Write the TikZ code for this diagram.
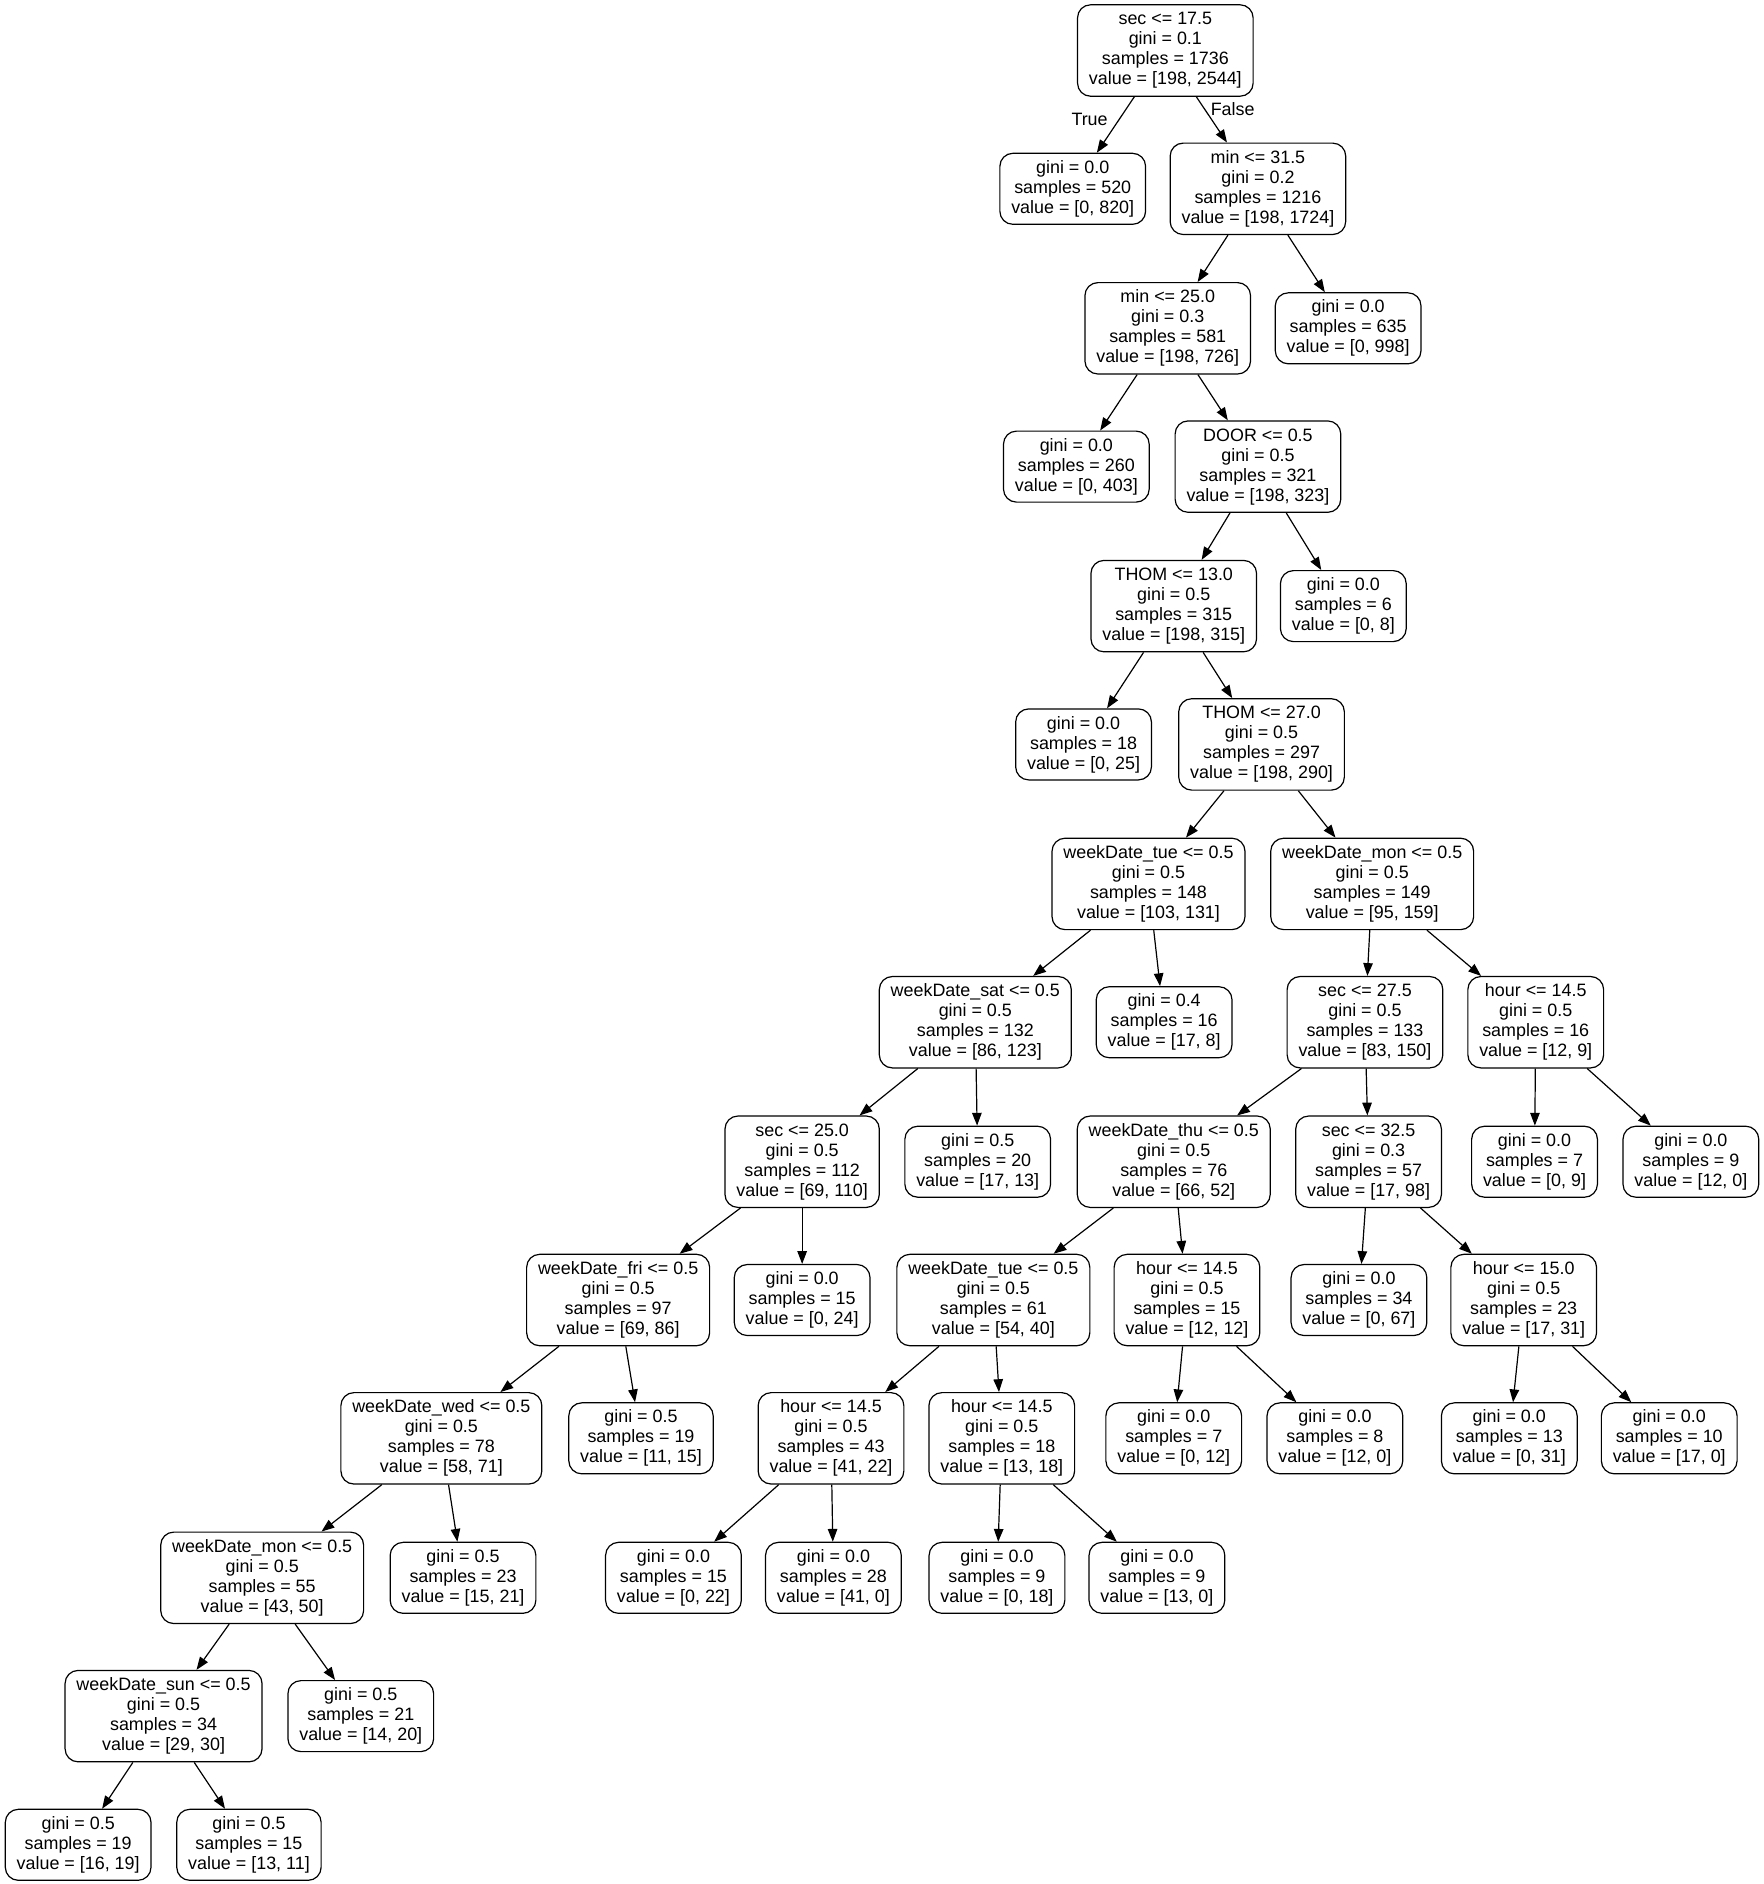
\documentclass[tikz,border=0pt]{standalone}
\usepackage{fontspec}
\setmainfont{Liberation Sans}
\usetikzlibrary{arrows.meta}
\tikzset{
  tn/.style={draw=black, line width=1.2pt, rounded corners=13pt, align=center,
    inner xsep=11.4pt, inner ysep=2pt, fill=white,
    font=\fontsize{17.9pt}{20pt}\selectfont,
    execute at begin node={\rule{0pt}{16.6pt}}},
  n4/.style={tn, minimum height=91.4pt},
  n3/.style={tn, minimum height=71pt},
  edge/.style={draw=black, line width=1.2pt, -{Triangle[length=12.8pt,width=9.5pt]}},
  elab/.style={font=\fontsize{17.9pt}{20pt}\selectfont, inner sep=0pt}
}
\begin{document}
\begin{tikzpicture}[x=1.2026pt,y=-1.2026pt]
\useasboundingbox (0,0) rectangle (1466,1566.6);
\fill[white] (0,0) rectangle (1466,1566.6);
% level 0
\node[n4] (root) at (969,42) {sec <= 17.5\\gini = 0.1\\samples = 1736\\value = [198, 2544]};
% level 1
\node[n3] (A) at (892,157) {gini = 0.0\\samples = 520\\value = [0, 820]};
\node[n4] (B) at (1046,157) {min <= 31.5\\gini = 0.2\\samples = 1216\\value = [198, 1724]};
% level 2
\node[n4] (C) at (971,273) {min <= 25.0\\gini = 0.3\\samples = 581\\value = [198, 726]};
\node[n3] (D) at (1121,273) {gini = 0.0\\samples = 635\\value = [0, 998]};
% level 3
\node[n3] (E) at (895,388) {gini = 0.0\\samples = 260\\value = [0, 403]};
\node[n4] (F) at (1046,388) {DOOR <= 0.5\\gini = 0.5\\samples = 321\\value = [198, 323]};
% level 4
\node[n4] (G) at (976,504) {THOM <= 13.0\\gini = 0.5\\samples = 315\\value = [198, 315]};
\node[n3] (H) at (1117,504) {gini = 0.0\\samples = 6\\value = [0, 8]};
% level 5
\node[n3] (I) at (901,619) {gini = 0.0\\samples = 18\\value = [0, 25]};
\node[n4] (J) at (1049,619) {THOM <= 27.0\\gini = 0.5\\samples = 297\\value = [198, 290]};
% level 6
\node[n4] (K) at (955,735) {weekDate\_tue <= 0.5\\gini = 0.5\\samples = 148\\value = [103, 131]};
\node[n4] (L) at (1141,735) {weekDate\_mon <= 0.5\\gini = 0.5\\samples = 149\\value = [95, 159]};
% level 7
\node[n4] (M) at (811,850) {weekDate\_sat <= 0.5\\gini = 0.5\\samples = 132\\value = [86, 123]};
\node[n3] (N) at (968,850) {gini = 0.4\\samples = 16\\value = [17, 8]};
\node[n4] (O) at (1135,850) {sec <= 27.5\\gini = 0.5\\samples = 133\\value = [83, 150]};
\node[n4] (P) at (1277,850) {hour <= 14.5\\gini = 0.5\\samples = 16\\value = [12, 9]};
% level 8
\node[n4] (Q) at (667,966) {sec <= 25.0\\gini = 0.5\\samples = 112\\value = [69, 110]};
\node[n3] (R) at (813,966) {gini = 0.5\\samples = 20\\value = [17, 13]};
\node[n4] (S) at (976,966) {weekDate\_thu <= 0.5\\gini = 0.5\\samples = 76\\value = [66, 52]};
\node[n4] (T) at (1138,966) {sec <= 32.5\\gini = 0.3\\samples = 57\\value = [17, 98]};
\node[n3] (U) at (1276,966) {gini = 0.0\\samples = 7\\value = [0, 9]};
\node[n3] (V) at (1406,966) {gini = 0.0\\samples = 9\\value = [12, 0]};
% level 9
\node[n4] (W) at (514,1081) {weekDate\_fri <= 0.5\\gini = 0.5\\samples = 97\\value = [69, 86]};
\node[n3] (X) at (667,1081) {gini = 0.0\\samples = 15\\value = [0, 24]};
\node[n4] (Y) at (826,1081) {weekDate\_tue <= 0.5\\gini = 0.5\\samples = 61\\value = [54, 40]};
\node[n4] (Z) at (987,1081) {hour <= 14.5\\gini = 0.5\\samples = 15\\value = [12, 12]};
\node[n3] (AA) at (1130,1081) {gini = 0.0\\samples = 34\\value = [0, 67]};
\node[n4] (AB) at (1267,1081) {hour <= 15.0\\gini = 0.5\\samples = 23\\value = [17, 31]};
% level 10
\node[n4] (AC) at (367,1196) {weekDate\_wed <= 0.5\\gini = 0.5\\samples = 78\\value = [58, 71]};
\node[n3] (AD) at (533,1196) {gini = 0.5\\samples = 19\\value = [11, 15]};
\node[n4] (AE) at (691,1196) {hour <= 14.5\\gini = 0.5\\samples = 43\\value = [41, 22]};
\node[n4] (AF) at (833,1196) {hour <= 14.5\\gini = 0.5\\samples = 18\\value = [13, 18]};
\node[n3] (AG) at (976,1196) {gini = 0.0\\samples = 7\\value = [0, 12]};
\node[n3] (AH) at (1110,1196) {gini = 0.0\\samples = 8\\value = [12, 0]};
\node[n3] (AI) at (1255,1196) {gini = 0.0\\samples = 13\\value = [0, 31]};
\node[n3] (AJ) at (1388,1196) {gini = 0.0\\samples = 10\\value = [17, 0]};
% level 11
\node[n4] (AK) at (218,1312) {weekDate\_mon <= 0.5\\gini = 0.5\\samples = 55\\value = [43, 50]};
\node[n3] (AL) at (385,1312) {gini = 0.5\\samples = 23\\value = [15, 21]};
\node[n3] (AM) at (560,1312) {gini = 0.0\\samples = 15\\value = [0, 22]};
\node[n3] (AN) at (693,1312) {gini = 0.0\\samples = 28\\value = [41, 0]};
\node[n3] (AO) at (829,1312) {gini = 0.0\\samples = 9\\value = [0, 18]};
\node[n3] (AP) at (962,1312) {gini = 0.0\\samples = 9\\value = [13, 0]};
% level 12
\node[n4] (AQ) at (136,1427) {weekDate\_sun <= 0.5\\gini = 0.5\\samples = 34\\value = [29, 30]};
\node[n3] (AR) at (300,1427) {gini = 0.5\\samples = 21\\value = [14, 20]};
% level 13
\node[n3] (AS) at (65,1534) {gini = 0.5\\samples = 19\\value = [16, 19]};
\node[n3] (AT) at (207,1534) {gini = 0.5\\samples = 15\\value = [13, 11]};
% edges
\draw[edge] (root) -- (A);
\draw[edge] (root) -- (B);
\node[elab] (tl) at (906,99) {True};
\node[elab] (fl) at (1025,91) {False};
\foreach \p/\c in {B/C,B/D,C/E,C/F,F/G,F/H,G/I,G/J,J/K,J/L,K/M,K/N,L/O,L/P,
  M/Q,M/R,O/S,O/T,P/U,P/V,Q/W,Q/X,S/Y,S/Z,T/AA,T/AB,W/AC,W/AD,Y/AE,Y/AF,
  Z/AG,Z/AH,AB/AI,AB/AJ,AC/AK,AC/AL,AE/AM,AE/AN,AF/AO,AF/AP,AK/AQ,AK/AR,
  AQ/AS,AQ/AT}
  \draw[edge] (\p) -- (\c);
\end{tikzpicture}
\end{document}
